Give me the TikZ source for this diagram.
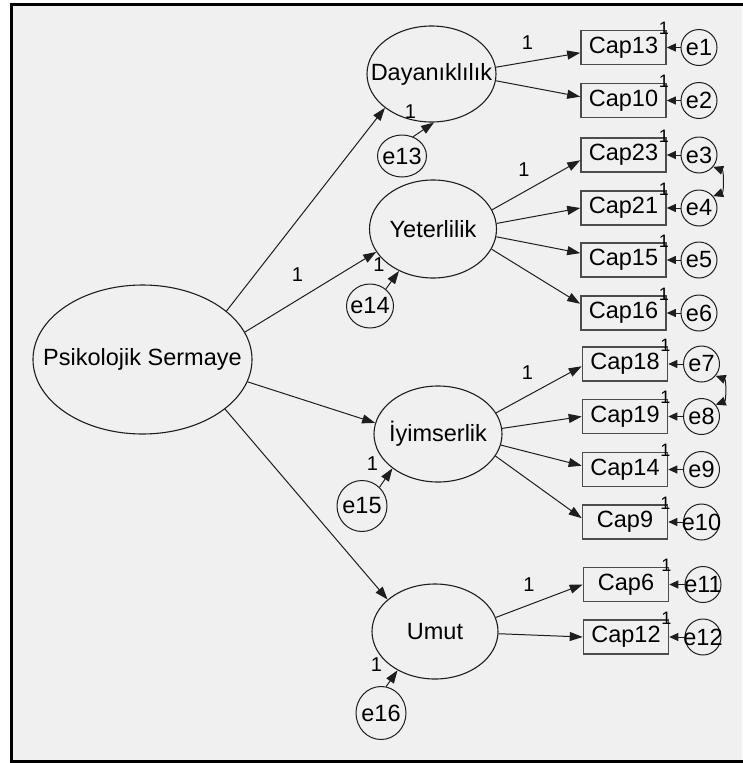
\documentclass[tikz,border=0pt]{standalone}
\usepackage{fontspec}
\setmainfont{Liberation Sans}
\usetikzlibrary{arrows.meta,shapes.geometric}
\definecolor{bg}{RGB}{240,240,240}
\definecolor{ln}{RGB}{30,30,30}
\begin{document}
\begin{tikzpicture}[x=1pt,y=1pt,
  txt/.style={font=\fontsize{23.5}{26}\selectfont, text=black, inner sep=0pt},
  latent/.style={ellipse, draw=ln, line width=1.1pt, inner sep=0pt},
  obs/.style={rectangle, draw=black!70, line width=1.6pt, minimum width=85pt, minimum height=34pt, inner sep=0pt, txt},
  err/.style={circle, draw=ln, line width=1pt, minimum size=36pt, inner sep=0pt},
  errl/.style={ellipse, draw=ln, line width=1pt, inner sep=0pt},
  parrow/.style={line width=1pt, draw=ln, -{Triangle[length=13pt,width=9pt]}},
  earrow/.style={line width=1pt, draw=ln, -{Triangle[length=9pt,width=8pt]}},
  cov/.style={line width=1pt, draw=ln, {Triangle[length=10pt,width=9pt]}-{Triangle[length=10pt,width=9pt]}},
  one/.style={font=\fontsize{20}{22}\selectfont, inner sep=0pt},
  cone/.style={font=\fontsize{18}{19}\selectfont, inner sep=0pt},
]
\useasboundingbox (0,0) rectangle (742,-763);
\fill[white] (0,0) rectangle (742,-763);
\fill[bg] (11.5,-4.5) rectangle (742,-761.5);
\draw[line width=3pt] (745,-4.5) -- (11.5,-4.5) -- (11.5,-761.5) -- (745,-761.5);

% latent variables
\node[latent, minimum width=219pt, minimum height=149pt, label={[txt,name=psl]center:Psikolojik Sermaye}] (ps) at (142.5,-359.5) {};
\node[latent, minimum width=129pt, minimum height=96pt, label={[txt,name=dayl]center:Dayanıklılık}] (day) at (431.5,-74) {};
\node[latent, minimum width=127pt, minimum height=98pt, label={[txt,name=yetl]center:Yeterlilik}] (yet) at (433,-229) {};
\node[latent, minimum width=128pt, minimum height=96pt, label={[txt,name=iyil]center:İyimserlik}] (iyi) at (438,-434) {};
\node[latent, minimum width=126pt, minimum height=95pt, label={[txt,name=umutl]center:Umut}] (umut) at (435,-631.5) {};

% disturbance terms
\node[errl, minimum width=49pt, minimum height=42pt, label={[txt,name=l13]center:e13}] (e13) at (402,-156) {};
\node[errl, minimum width=47pt, minimum height=44pt, label={[txt,name=l14]center:e14}] (e14) at (370,-306) {};
\node[errl, minimum width=50pt, minimum height=51pt, label={[txt,name=l15]center:e15}] (e15) at (362,-506) {};
\node[errl, minimum width=50pt, minimum height=53pt, label={[txt,name=l16]center:e16}] (e16) at (381,-713) {};

% observed variables
\node[obs] (c13) at (623.5,-47.5) {Cap13};
\node[obs] (c10) at (623.5,-100.5) {Cap10};
\node[obs] (c23) at (623.5,-155) {Cap23};
\node[obs] (c21) at (623.5,-208) {Cap21};
\node[obs] (c15) at (623.5,-260) {Cap15};
\node[obs] (c16) at (623.5,-313) {Cap16};
\node[obs] (c18) at (625,-364) {Cap18};
\node[obs] (c19) at (625,-416.5) {Cap19};
\node[obs] (c14) at (625,-469.5) {Cap14};
\node[obs] (c9) at (625,-522) {Cap9};
\node[obs] (c6) at (626,-584.5) {Cap6};
\node[obs] (c12) at (626,-637) {Cap12};

% corner labels
\foreach \b in {c13,c10,c23,c21,c15,c16,c18,c19,c14,c9,c6,c12}
  \node[cone] (o\b) at ([shift={(-3,1)}]\b.north east) {1};

% error terms
\node[err, label={[txt,name=l1]center:e1}] (e1) at (699,-47.5) {};
\node[err, label={[txt,name=l2]center:e2}] (e2) at (699,-100.5) {};
\node[err, label={[txt,name=l3]center:e3}] (e3) at (699,-155) {};
\node[err, label={[txt,name=l4]center:e4}] (e4) at (699,-208) {};
\node[err, label={[txt,name=l5]center:e5}] (e5) at (699,-260) {};
\node[err, label={[txt,name=l6]center:e6}] (e6) at (699,-313) {};
\node[err, label={[txt,name=l7]center:e7}] (e7) at (701.5,-364) {};
\node[err, label={[txt,name=l8]center:e8}] (e8) at (701.5,-416.5) {};
\node[err, label={[txt,name=l9]center:e9}] (e9) at (701.5,-469.5) {};
\node[err, label={[txt,name=l10]center:e10}] (e10) at (701.5,-522) {};
\node[err, label={[txt,name=l11]center:e11}] (e11) at (703,-584.5) {};
\node[err, label={[txt,name=l12]center:e12}] (e12) at (703,-637) {};

% error arrows
\draw[earrow] (e1) -- (c13);
\draw[earrow] (e2) -- (c10);
\draw[earrow] (e3) -- (c23);
\draw[earrow] (e4) -- (c21);
\draw[earrow] (e5) -- (c15);
\draw[earrow] (e6) -- (c16);
\draw[earrow] (e7) -- (c18);
\draw[earrow] (e8) -- (c19);
\draw[earrow] (e9) -- (c14);
\draw[earrow] (e10) -- (c9);
\draw[earrow] (e11) -- (c6);
\draw[earrow] (e12) -- (c12);

% covariances
\draw[cov] (e3.-40) to[out=-20,in=20] (e4.40);
\draw[cov] (e7.-40) to[out=-20,in=20] (e8.40);

% structural paths
\draw[parrow] (ps.30) -- (day.216);
\draw[parrow] (ps.15) -- (yet.202);
\draw[parrow] (ps.-12) -- (iyi.170);
\draw[parrow] (ps.-31) -- (umut.146);
\node[one] (w0) at (297.5,-274.5) {1};

% disturbances to latents
\draw[parrow] (e13.60) -- (day.-87);
\draw[parrow] (e14.47) -- (yet.231);
\draw[parrow] (e15.47) -- (iyi.217);
\draw[parrow] (e16.79) -- (umut.226);
\node[one] (w13) at (410.5,-112) {1};
\node[one] (w14) at (379,-265) {1};
\node[one] (w15) at (372.5,-464) {1};
\node[one] (w16) at (376.5,-664.5) {1};

% measurement paths
\draw[parrow] (day.6) -- (c13.187);
\draw[parrow] (day.-6) -- (c10.175);
\draw[parrow] (yet.18) -- (c23.187);
\draw[parrow] (yet.5) -- (c21.180);
\draw[parrow] (yet.-7) -- (c15.171);
\draw[parrow] (yet.-19) -- (c16.168);
\draw[parrow] (iyi.20) -- (c18.183);
\draw[parrow] (iyi.5) -- (c19.180);
\draw[parrow] (iyi.-10) -- (c14.175);
\draw[parrow] (iyi.-21) -- (c9.175);
\draw[parrow] (umut.13) -- (c6.180);
\draw[parrow] (umut.-2) -- (c12.180);
\node[one] (w1) at (527.5,-42.5) {1};
\node[one] (w2) at (524,-169.5) {1};
\node[one] (w3) at (527.5,-372.5) {1};
\node[one] (w4) at (529,-584.5) {1};
\end{tikzpicture}
\end{document}
